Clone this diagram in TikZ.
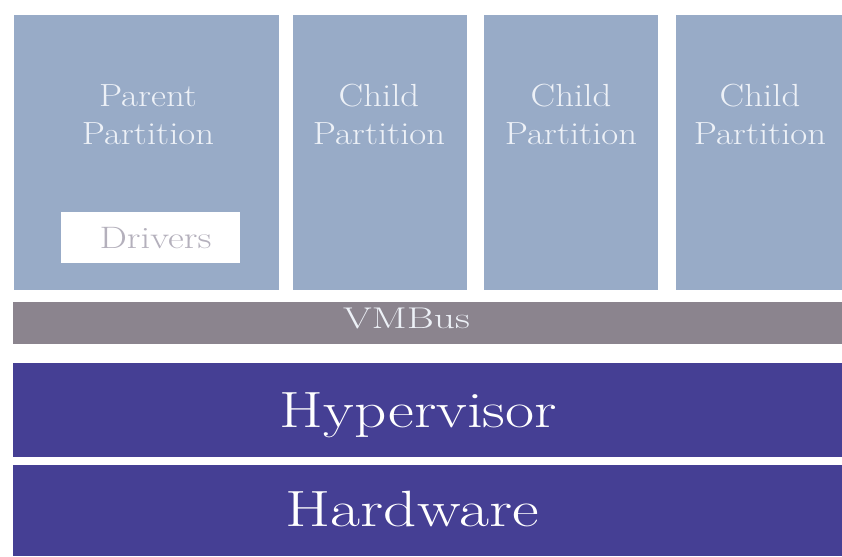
\documentclass[tikz,border=0pt]{standalone}
\definecolor{partfill}{HTML}{98ABC7}
\definecolor{partText}{HTML}{EDF1F7}
\definecolor{busfill}{HTML}{8B848E}
\definecolor{hvfill}{HTML}{453F94}
\definecolor{drvText}{HTML}{B4B0BC}
% horizontally widened text
\newcommand{\wtext}[2]{\scalebox{#1}[1]{#2}}
\newcommand{\twolines}[2]{\wtext{1.15}{\begin{tabular}[t]{@{}c@{}}#1\\[1pt]#2\end{tabular}}}
\begin{document}
\begin{tikzpicture}[x=1pt,y=-1pt,
  parttext/.style={text=partText, anchor=base, inner sep=0pt, font=\fontsize{32}{37}\selectfont},
  bandtext/.style={text=white, anchor=base, inner sep=0pt, font=\fontsize{51}{56}\selectfont}
]
\useasboundingbox[fill=white] (0,0) rectangle (842,556);

% partitions
\fill[partfill] (14,15) rectangle (279,290);
\fill[partfill] (293,15) rectangle (467,290);
\fill[partfill] (484,15) rectangle (658,290);
\fill[partfill] (676,15) rectangle (842,290);

\node[parttext] (parent) at (148,107) {\twolines{Parent}{Partition}};
\node[parttext] (child1) at (379,107) {\twolines{Child}{Partition}};
\node[parttext] (child2) at (571,107) {\twolines{Child}{Partition}};
\node[parttext] (child3) at (760,107) {\twolines{Child}{Partition}};

% drivers box inside the parent partition
\fill[white] (61,212) rectangle (240,263);
\node[text=drvText, anchor=base, inner sep=0pt, font=\fontsize{31}{36}\selectfont] (drivers) at (155.5,248) {\wtext{1.25}{Drivers}};

% VMBus
\fill[busfill] (13,302) rectangle (842,344);
\node[text=partText, anchor=base, inner sep=0pt, font=\fontsize{30}{36}\selectfont] (vmbus) at (406.5,328) {\wtext{1.38}{VMBus}};

% hypervisor and hardware
\fill[hvfill] (13,363) rectangle (842,457);
\node[bandtext] (hyper) at (418.5,427) {\wtext{1.24}{Hypervisor}};
\fill[hvfill] (13,465) rectangle (842,556);
\node[bandtext] (hw) at (412,526) {\wtext{1.28}{Hardware}};
\end{tikzpicture}
\end{document}
